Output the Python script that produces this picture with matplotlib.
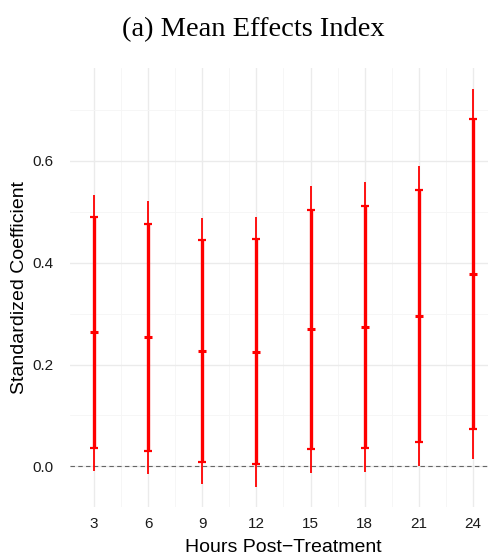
#!/usr/bin/env python3

# Coefficient plot: point estimates with 90% (thick) and 95% (thin) intervals

import numpy as np
from matplotlib import pyplot as plt

hours = [3, 6, 9, 12, 15, 18, 21, 24]
estimate = [0.263, 0.254, 0.226, 0.225, 0.269, 0.274, 0.295, 0.378]
ci90_low = [0.036, 0.030, 0.008, 0.004, 0.034, 0.035, 0.048, 0.074]
ci90_high = [0.489, 0.476, 0.444, 0.446, 0.503, 0.512, 0.543, 0.682]
ci95_low = [-0.009, -0.015, -0.035, -0.040, -0.013, -0.012, 0.000, 0.014]
ci95_high = [0.533, 0.521, 0.487, 0.490, 0.550, 0.559, 0.591, 0.742]

red = "#FF0000"
major = "#EBEBEB"
minor = "#F5F5F5"

fig = plt.figure(figsize=(4.89, 5.56), dpi=100)
# panel: x 70..489, y 68..507 (pixels from top)
ax = fig.add_axes([70 / 489, 49 / 556, 419 / 489, 439 / 556])

x = np.array(hours)
est = np.array(estimate)

# thin outer (95%) lines
ax.vlines(x, ci95_low, ci95_high, color=red, lw=1.3, zorder=3)
# thick inner (90%) lines with caps
ax.errorbar(x, est, yerr=[est - ci90_low, np.array(ci90_high) - est],
            fmt="none", ecolor=red, elinewidth=2.4, capsize=3.2, capthick=1.6, zorder=4)
# point estimates, drawn as short dashes
ax.plot(x, est, "_", color=red, ms=5.5, mew=2.2, zorder=5)

ax.axhline(0, color="#666666", lw=0.8, ls=(0, (4, 3)), zorder=2)

ax.set_xlim(1.67, 24.89)
ax.set_ylim(-0.080, 0.7826)
ax.set_xticks(hours)
ax.set_yticks([0.0, 0.2, 0.4, 0.6])
ax.set_yticklabels(["0.0", "0.2", "0.4", "0.6"])
ax.set_xticks(np.arange(4.5, 24, 3), minor=True)
ax.set_yticks([0.1, 0.3, 0.5, 0.7], minor=True)

ax.grid(True, which="major", color=major, lw=1.0, zorder=0)
ax.grid(True, which="minor", color=minor, lw=0.6, zorder=0)
ax.set_axisbelow(True)
for s in ax.spines.values():
    s.set_visible(False)
ax.tick_params(which="both", length=0)
ax.tick_params(axis="x", labelsize=11, labelcolor="#1A1A1A", pad=7)
ax.tick_params(axis="y", labelsize=11, labelcolor="#1A1A1A", pad=12)
for t in ax.get_xticklabels() + ax.get_yticklabels():
    t.set_family("Liberation Sans")

ax.set_xlabel("Hours Post\u2212Treatment", fontsize=14, family="Liberation Sans")
ax.set_ylabel("Standardized Coefficient", fontsize=14, family="Liberation Sans")
ax.xaxis.set_label_coords((283 - 70) / 419, (507 - 547) / 439)
ax.yaxis.set_label_coords((20 - 70) / 419, (507 - 287) / 439)
ax.xaxis.label.set_va("center")
ax.yaxis.label.set_va("center")

fig.text(253 / 489, 1 - 30 / 556, "(a) Mean Effects Index", ha="center", va="center",
         fontsize=20.5, family="Liberation Serif")

fig.savefig("out.png", dpi=100)
